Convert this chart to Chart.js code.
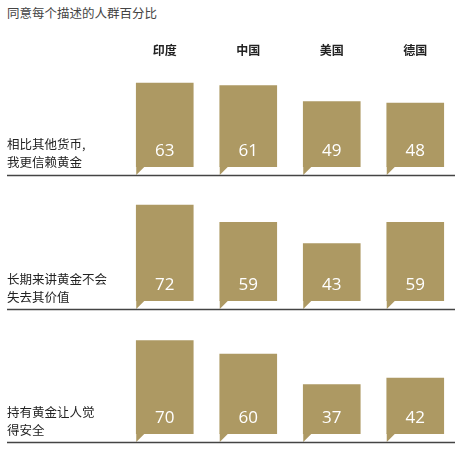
<!DOCTYPE html>
<html lang="zh">
<head>
  <meta charset="UTF-8" />
  <title>黄金态度</title>
  <script src="https://cdn.jsdelivr.net/npm/chart.js"></script>
  <style>
    html, body { margin: 0; padding: 0; background: #fff; }
    body {
      width: 468px; height: 454px; position: relative; overflow: hidden;
      font-family: "Noto Sans CJK SC", sans-serif; color: #333;
    }
    .title { position: absolute; left: 7px; top: 3px; font-size: 12.5px; color: #444; }
    .row { position: absolute; left: 7px; font-size: 12.5px; line-height: 18px; color: #222; }
    .panel { position: absolute; left: 0; width: 468px; }
  </style>
</head>
<body>
  <div class="title">同意每个描述的人群百分比</div>

  <script>
    // data
    const countries = ["印度", "中国", "美国", "德国"];
    const statements = [
      ["相比其他货币,", "我更信赖黄金"],
      ["长期来讲黄金不会", "失去其价值"],
      ["持有黄金让人觉", "得安全"]
    ];
    const trustMore = [63, 61, 49, 48];
    const keepValue = [72, 59, 43, 59];
    const feelSafe = [70, 60, 37, 42];

    const series = [trustMore, keepValue, feelSafe];
    const gold = "#ad9963";

    // panel boxes: div top, height, padding top/bottom, label top
    const panels = [
      { top: 30, height: 155, padTop: 37, padBottom: 18, labelTop: 135 },
      { top: 196, height: 120, padTop: 5, padBottom: 15, labelTop: 270 },
      { top: 329, height: 120, padTop: 5, padBottom: 15, labelTop: 403 }
    ];

    const bubblePlugin = {
      id: "bubble",
      afterDatasetsDraw(chart, args, opts) {
        const ctx = chart.ctx;
        const area = chart.chartArea;
        const meta = chart.getDatasetMeta(0);
        const values = chart.data.datasets[0].data;
        ctx.save();
        meta.data.forEach((bar, i) => {
          const left = bar.x - bar.width / 2;
          // little speech-bubble tail under each bar
          ctx.fillStyle = gold;
          ctx.beginPath();
          ctx.moveTo(left, bar.base - 0.5);
          ctx.lineTo(left + 8.5, bar.base - 0.5);
          ctx.lineTo(left, bar.base + 8);
          ctx.closePath();
          ctx.fill();

          ctx.fillStyle = "#fff";
          ctx.font = '17px "Open Sans"';
          ctx.textAlign = "center";
          ctx.textBaseline = "middle";
          ctx.fillText(values[i], bar.x, bar.base - 16);

          if (opts.headers) {
            ctx.fillStyle = "#222";
            ctx.font = 'bold 12px "Noto Sans CJK SC"';
            ctx.fillText(chart.data.labels[i], bar.x, area.top - 17);
          }
        });
        ctx.strokeStyle = "#444";
        ctx.lineWidth = 1.5;
        ctx.beginPath();
        ctx.moveTo(7, area.bottom + 8.5);
        ctx.lineTo(area.right - 2, area.bottom + 8.5);
        ctx.stroke();
        ctx.restore();
      }
    };

    panels.forEach((p, k) => {
      const wrap = document.createElement("div");
      wrap.className = "panel";
      wrap.style.top = p.top + "px";
      wrap.style.height = p.height + "px";
      const canvas = document.createElement("canvas");
      wrap.appendChild(canvas);
      document.body.appendChild(wrap);

      const label = document.createElement("div");
      label.className = "row";
      label.style.top = p.labelTop + "px";
      label.innerHTML = statements[k].join("<br>");
      document.body.appendChild(label);

      new Chart(canvas.getContext("2d"), {
        type: "bar",
        data: {
          labels: countries,
          datasets: [{
            data: series[k],
            backgroundColor: gold,
            borderWidth: 0,
            barThickness: 57
          }]
        },
        options: {
          responsive: true,
          maintainAspectRatio: false,
          animation: false,
          layout: { padding: { left: 123, right: 11, top: p.padTop, bottom: p.padBottom } },
          plugins: {
            legend: { display: false },
            tooltip: { enabled: false },
            bubble: { headers: k === 0 }
          },
          scales: {
            x: { display: false },
            y: { display: false, min: 0, max: 75 }
          }
        },
        plugins: [bubblePlugin]
      });
    });
  </script>
</body>
</html>
